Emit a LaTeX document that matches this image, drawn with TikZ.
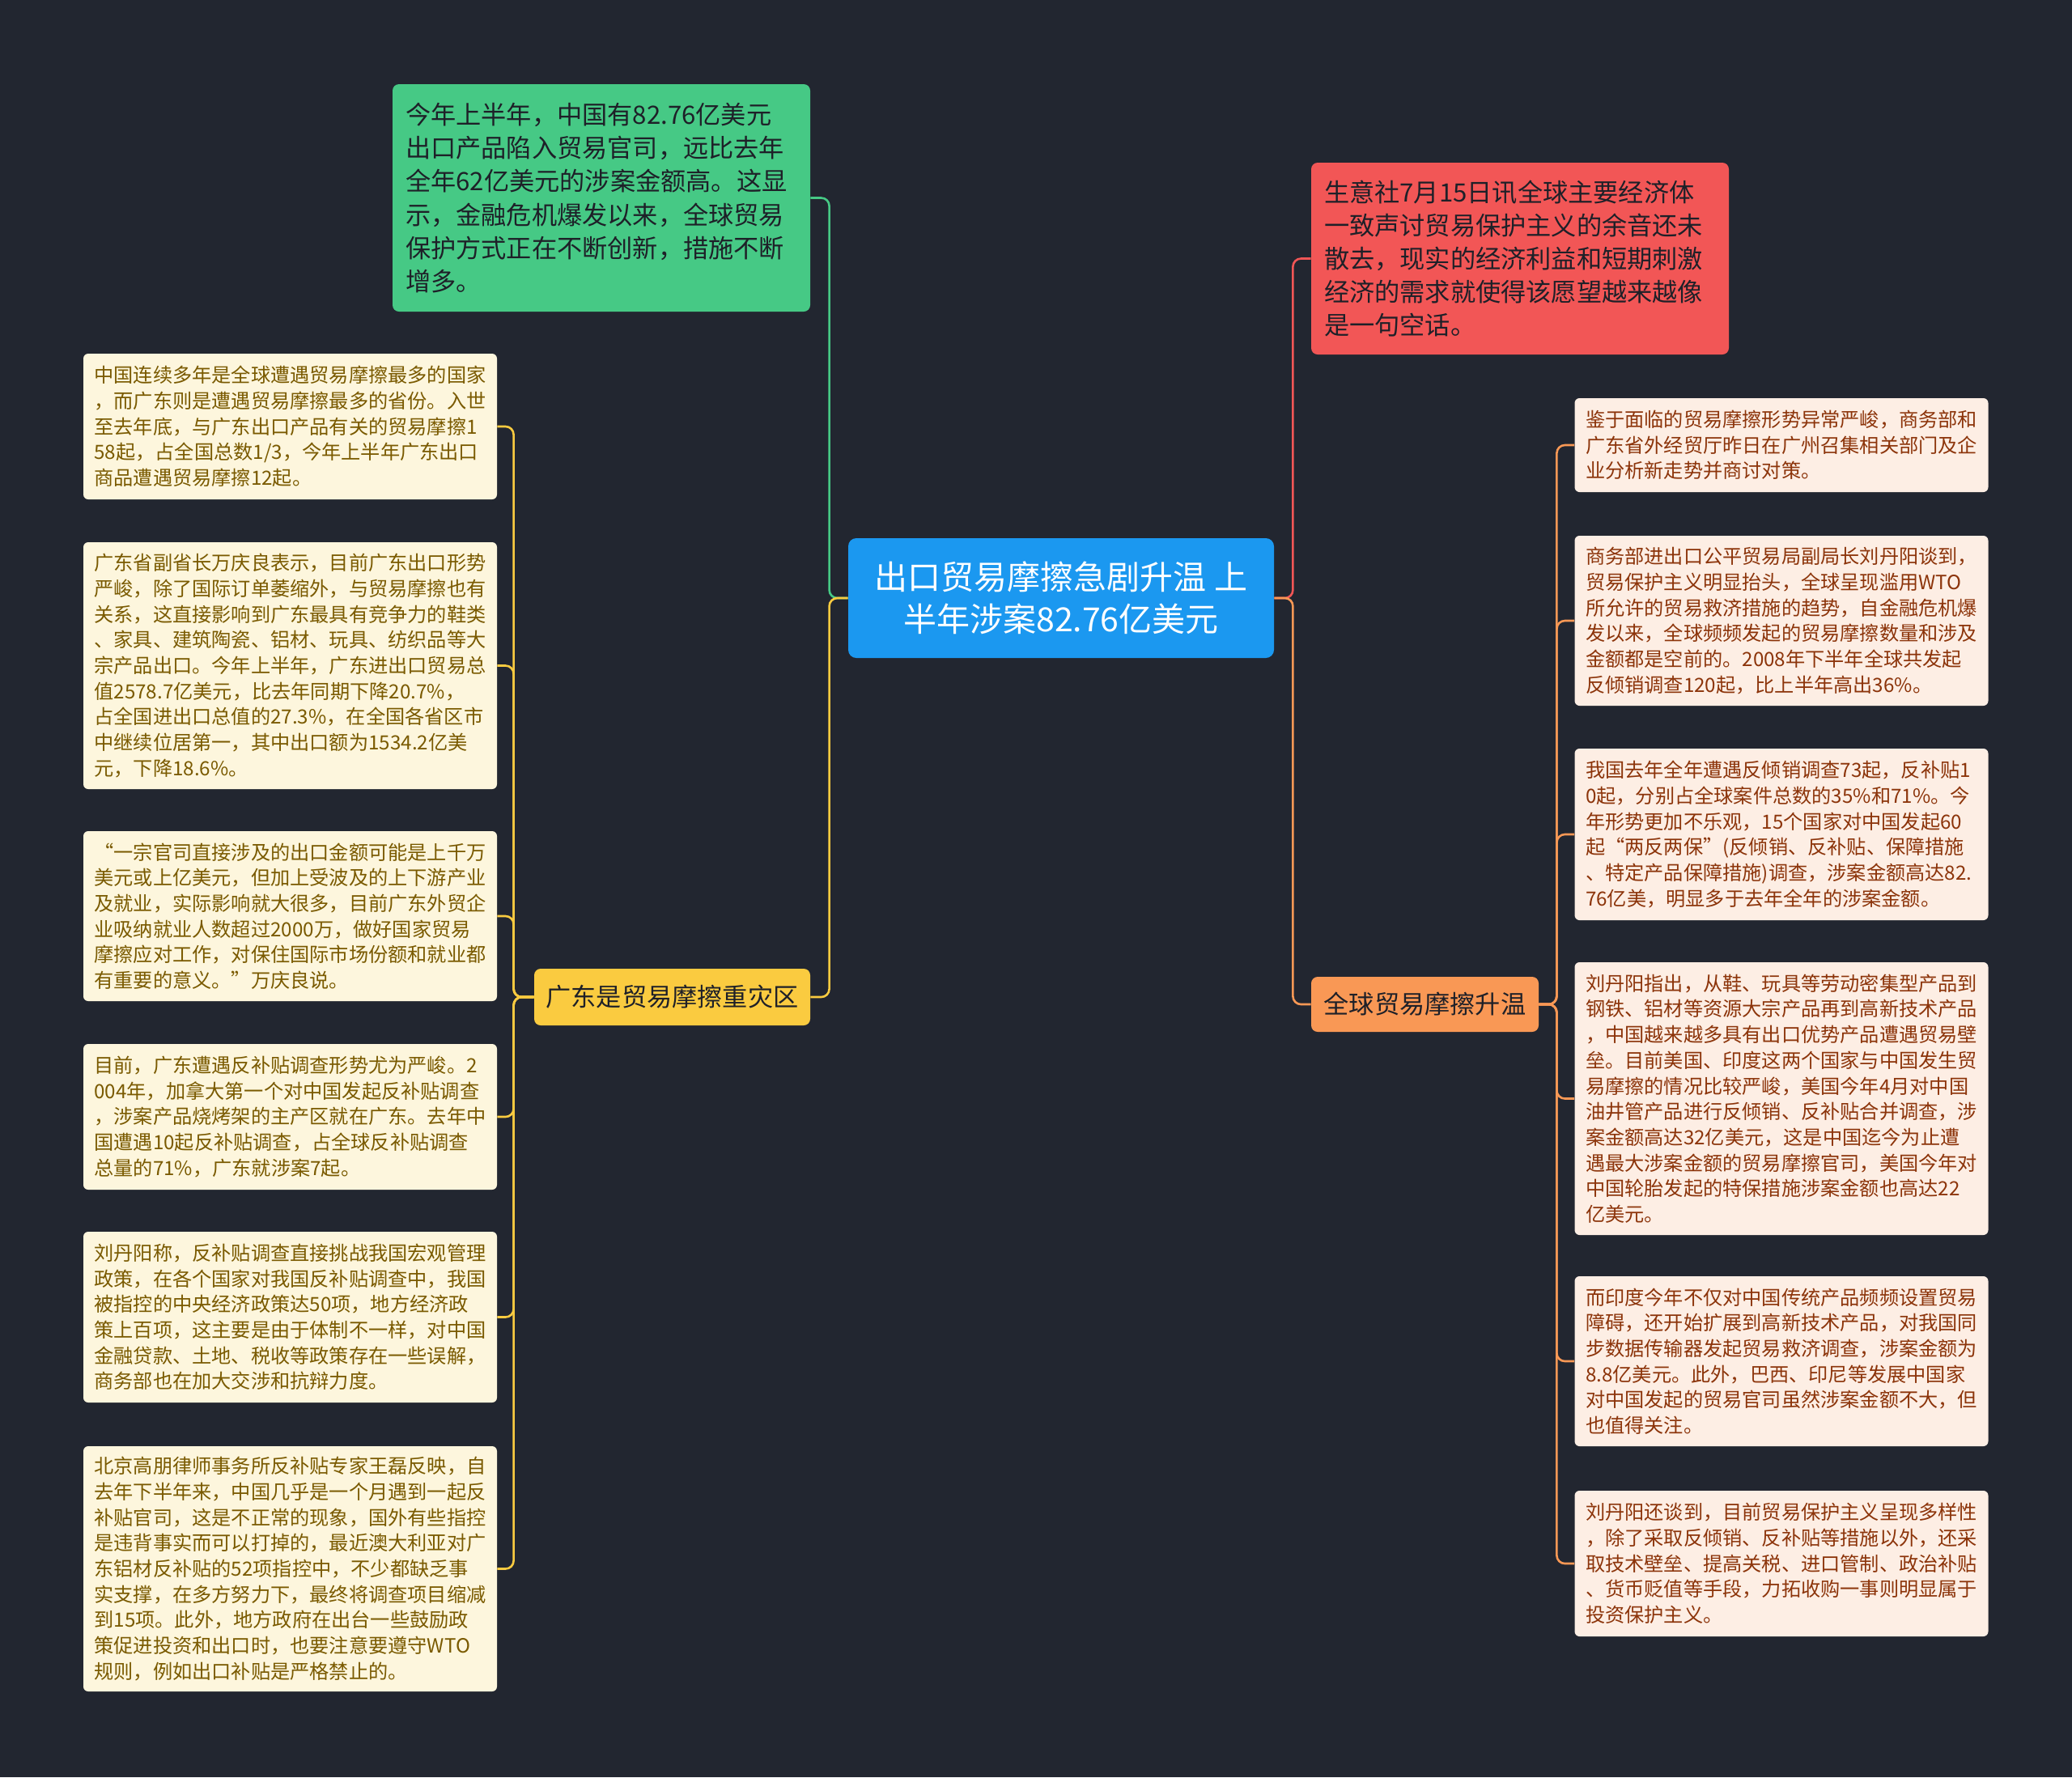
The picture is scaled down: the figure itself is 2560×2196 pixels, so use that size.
\documentclass[tikz,border=0pt]{standalone}
\usepackage{fontspec}
\setmainfont{Noto Sans CJK SC}
\definecolor{beijing}{RGB}{34,38,48}
\definecolor{zhulan}{RGB}{27,152,240}
\definecolor{qinglv}{RGB}{70,201,133}
\definecolor{hongse}{RGB}{242,86,86}
\definecolor{huangse}{RGB}{250,203,64}
\definecolor{chengse}{RGB}{249,152,85}
\definecolor{shenzi}{RGB}{30,32,40}
\definecolor{zuodi}{RGB}{253,246,221}
\definecolor{zuozi}{RGB}{122,90,0}
\definecolor{youdi}{RGB}{253,238,228}
\definecolor{youzi}{RGB}{140,52,10}
\begin{document}
\begin{tikzpicture}[x=0.5pt, y=-0.5pt,
    zhuti/.style={fill=zhulan, text=white, rounded corners=5pt, inner sep=0pt,
        align=center, font=\fontsize{20.5}{26}\selectfont},
    fenzhi/.style={text=shenzi, rounded corners=4pt, inner sep=0pt,
        font=\fontsize{15.6}{20.6}\selectfont},
    yezi/.style={rounded corners=3pt, inner sep=0pt, text width=242pt, align=left,
        minimum width=255.5pt, font=\fontsize{12.1}{15.85}\selectfont},
    zuoye/.style={yezi, fill=zuodi, text=zuozi},
    youye/.style={yezi, fill=youdi, text=youzi},
    lian/.style={line width=1.3pt, rounded corners=5pt}]

    % 背景
    \fill[beijing] (0,0) rectangle (2560,2196);

    % 中心主题
    \node[zhuti, minimum width=263pt, minimum height=74pt] (zhong) at (1311,739)
        {出口贸易摩擦急剧升温 上\\半年涉案82.76亿美元};

    % 一级分支
    \node[fenzhi, fill=qinglv, text width=242pt, align=left, minimum width=258pt,
        minimum height=140.5pt] (jinnian) at (743,244.5)
        {今年上半年，中国有82.76亿美元\\出口产品陷入贸易官司，远比去年\\全年62亿美元的涉案金额高。这显\\示，金融危机爆发以来，全球贸易\\保护方式正在不断创新，措施不断\\增多。};
    \node[fenzhi, fill=hongse, text width=242pt, align=left, minimum width=258pt,
        minimum height=118.5pt] (shengyi) at (1878,319.5)
        {生意社7月15日讯全球主要经济体\\一致声讨贸易保护主义的余音还未\\散去，现实的经济利益和短期刺激\\经济的需求就使得该愿望越来越像\\是一句空话。};
    \node[fenzhi, fill=huangse, minimum width=170.5pt, minimum height=35pt] (guangdong)
        at (830.5,1232) {广东是贸易摩擦重灾区};
    \node[fenzhi, fill=chengse, minimum width=140.5pt, minimum height=34pt] (quanqiu)
        at (1760.5,1241) {全球贸易摩擦升温};

    % 左侧：广东是贸易摩擦重灾区
    \node[zuoye, minimum height=90pt] (z1) at (358.5,527)
        {中国连续多年是全球遭遇贸易摩擦最多的国家\\，而广东则是遭遇贸易摩擦最多的省份。入世\\至去年底，与广东出口产品有关的贸易摩擦1\\58起，占全国总数1/3，今年上半年广东出口\\商品遭遇贸易摩擦12起。};
    \node[zuoye, minimum height=152.5pt] (z2) at (358.5,822.5)
        {广东省副省长万庆良表示，目前广东出口形势\\严峻，除了国际订单萎缩外，与贸易摩擦也有\\关系，这直接影响到广东最具有竞争力的鞋类\\、家具、建筑陶瓷、铝材、玩具、纺织品等大\\宗产品出口。今年上半年，广东进出口贸易总\\值2578.7亿美元，比去年同期下降20.7\%，\\占全国进出口总值的27.3\%，在全国各省区市\\中继续位居第一，其中出口额为1534.2亿美\\元，下降18.6\%。};
    \node[zuoye, minimum height=105pt] (z3) at (358.5,1132)
        {“一宗官司直接涉及的出口金额可能是上千万\\美元或上亿美元，但加上受波及的上下游产业\\及就业，实际影响就大很多，目前广东外贸企\\业吸纳就业人数超过2000万，做好国家贸易\\摩擦应对工作，对保住国际市场份额和就业都\\有重要的意义。”万庆良说。};
    \node[zuoye, minimum height=90pt] (z4) at (358.5,1380)
        {目前，广东遭遇反补贴调查形势尤为严峻。2\\004年，加拿大第一个对中国发起反补贴调查\\，涉案产品烧烤架的主产区就在广东。去年中\\国遭遇10起反补贴调查，占全球反补贴调查\\总量的71\%，广东就涉案7起。};
    \node[zuoye, minimum height=105.5pt] (z5) at (358.5,1627.5)
        {刘丹阳称，反补贴调查直接挑战我国宏观管理\\政策，在各个国家对我国反补贴调查中，我国\\被指控的中央经济政策达50项，地方经济政\\策上百项，这主要是由于体制不一样，对中国\\金融贷款、土地、税收等政策存在一些误解，\\商务部也在加大交涉和抗辩力度。};
    \node[zuoye, minimum height=151.5pt] (z6) at (358.5,1938.5)
        {北京高朋律师事务所反补贴专家王磊反映，自\\去年下半年来，中国几乎是一个月遇到一起反\\补贴官司，这是不正常的现象，国外有些指控\\是违背事实而可以打掉的，最近澳大利亚对广\\东铝材反补贴的52项指控中，不少都缺乏事\\实支撑，在多方努力下，最终将调查项目缩减\\到15项。此外，地方政府在出台一些鼓励政\\策促进投资和出口时，也要注意要遵守WTO\\规则，例如出口补贴是严格禁止的。};

    % 右侧：全球贸易摩擦升温
    \node[youye, minimum height=58pt] (y1) at (2201,550)
        {鉴于面临的贸易摩擦形势异常严峻，商务部和\\广东省外经贸厅昨日在广州召集相关部门及企\\业分析新走势并商讨对策。};
    \node[youye, minimum height=105pt] (y2) at (2201,767)
        {商务部进出口公平贸易局副局长刘丹阳谈到，\\贸易保护主义明显抬头，全球呈现滥用WTO\\所允许的贸易救济措施的趋势，自金融危机爆\\发以来，全球频频发起的贸易摩擦数量和涉及\\金额都是空前的。2008年下半年全球共发起\\反倾销调查120起，比上半年高出36\%。};
    \node[youye, minimum height=106pt] (y3) at (2201,1031)
        {我国去年全年遭遇反倾销调查73起，反补贴1\\0起，分别占全球案件总数的35\%和71\%。今\\年形势更加不乐观，15个国家对中国发起60\\起“两反两保”(反倾销、反补贴、保障措施\\、特定产品保障措施)调查，涉案金额高达82.\\76亿美，明显多于去年全年的涉案金额。};
    \node[youye, minimum height=168.5pt] (y4) at (2201,1357.5)
        {刘丹阳指出，从鞋、玩具等劳动密集型产品到\\钢铁、铝材等资源大宗产品再到高新技术产品\\，中国越来越多具有出口优势产品遭遇贸易壁\\垒。目前美国、印度这两个国家与中国发生贸\\易摩擦的情况比较严峻，美国今年4月对中国\\油井管产品进行反倾销、反补贴合并调查，涉\\案金额高达32亿美元，这是中国迄今为止遭\\遇最大涉案金额的贸易摩擦官司，美国今年对\\中国轮胎发起的特保措施涉案金额也高达22\\亿美元。};
    \node[youye, minimum height=105pt] (y5) at (2201,1682)
        {而印度今年不仅对中国传统产品频频设置贸易\\障碍，还开始扩展到高新技术产品，对我国同\\步数据传输器发起贸易救济调查，涉案金额为\\8.8亿美元。此外，巴西、印尼等发展中国家\\对中国发起的贸易官司虽然涉案金额不大，但\\也值得关注。};
    \node[youye, minimum height=90pt] (y6) at (2201,1932)
        {刘丹阳还谈到，目前贸易保护主义呈现多样性\\，除了采取反倾销、反补贴等措施以外，还采\\取技术壁垒、提高关税、进口管制、政治补贴\\、货币贬值等手段，力拓收购一事则明显属于\\投资保护主义。};

    % 连线
    \draw[lian, qinglv] (zhong.west) -- ++(-23,0) |- (jinnian.east);
    \draw[lian, huangse] (zhong.west) -- ++(-23,0) |- (guangdong.east);
    \draw[lian, hongse] (zhong.east) -- ++(23,0) |- (shengyi.west);
    \draw[lian, chengse] (zhong.east) -- ++(23,0) |- (quanqiu.west);
    \foreach \n in {1,...,6}
        \draw[lian, huangse] (guangdong.west) -- ++(-25,0) |- (z\n.east);
    \foreach \n in {1,...,6}
        \draw[lian, chengse] (quanqiu.east) -- ++(22,0) |- (y\n.west);
\end{tikzpicture}
\end{document}
